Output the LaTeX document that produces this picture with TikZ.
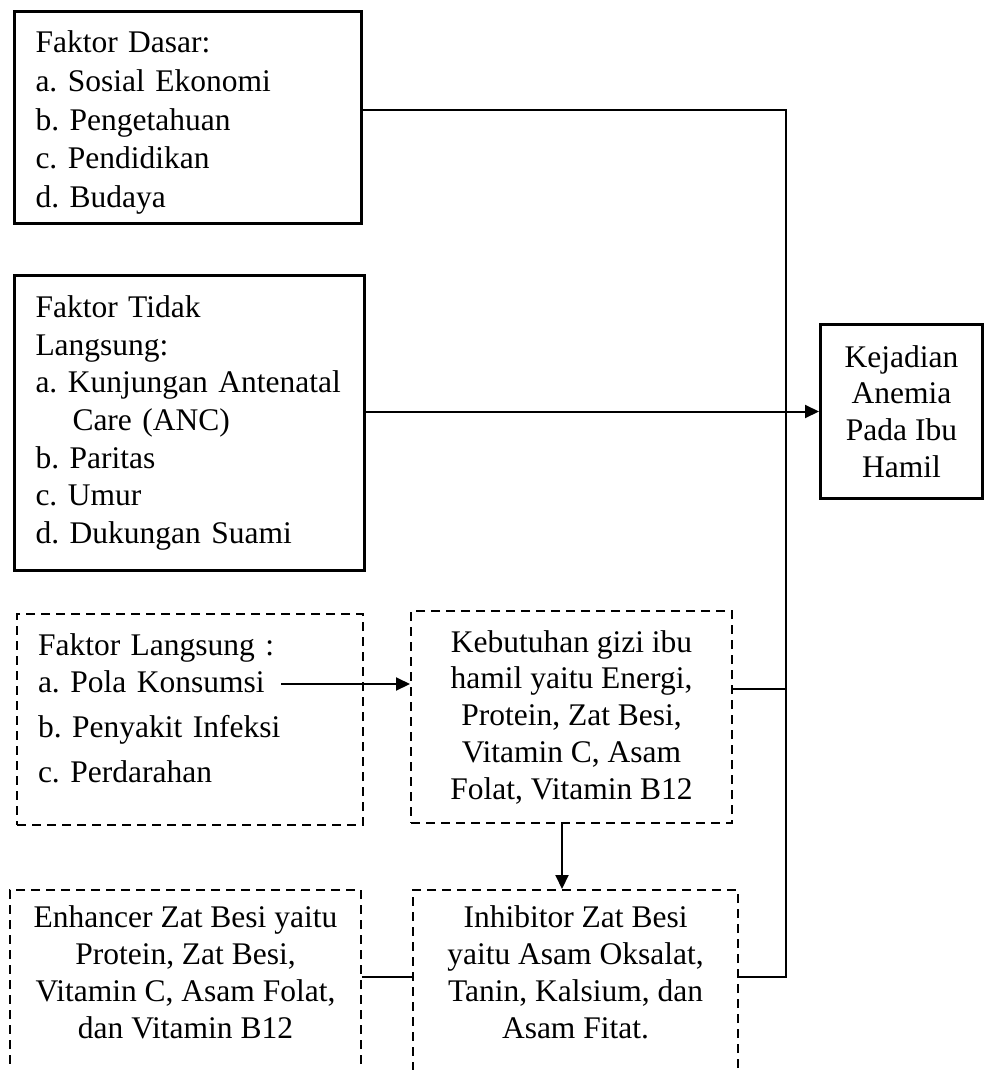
\documentclass[tikz,border=0pt]{standalone}
\usepackage{fontspec}
\setmainfont{Liberation Serif}
\usetikzlibrary{arrows.meta}
\usetikzlibrary{calc}

\begin{document}
\begin{tikzpicture}[x=1pt,y=-1pt,
        font=\fontsize{31.5}{36.75}\selectfont\frenchspacing,
        solidbox/.style={draw, line width=3pt, inner xsep=21pt, inner ysep=0pt},
        dashbox/.style={draw, line width=2pt, dash pattern=on 9pt off 6pt, inner xsep=21pt, inner ysep=0pt},
        link/.style={line width=1.6pt},
        arr/.style={line width=2pt, -{Triangle[length=14pt,width=13pt]}}]
        \useasboundingbox (0,0) rectangle (987,1070);

        \node[solidbox, align=left, text width=305pt, minimum width=347pt, minimum height=212pt,
            font=\fontsize{31.5}{38.75}\selectfont\frenchspacing] (dasar) at (188,117.5)
            {\rule{0pt}{32pt}Faktor Dasar:\\a. Sosial Ekonomi\\b. Pengetahuan\\c. Pendidikan\\d. Budaya};
        \node[solidbox, align=left, text width=308pt, minimum width=350pt, minimum height=295pt,
            font=\fontsize{31.5}{37.7}\selectfont\frenchspacing] (tidak) at (189.5,423)
            {Faktor Tidak\\Langsung:\\a. Kunjungan Antenatal\\\hspace*{37pt}Care (ANC)\\b. Paritas\\c. Umur\\d. Dukungan Suami};
        \node[solidbox, align=center, minimum width=162pt, minimum height=174pt] (anemia) at (901.5,411.5)
            {Kejadian\\Anemia\\Pada Ibu\\Hamil};

        \node[dashbox, align=left, text width=304pt, minimum width=346pt, minimum height=211pt] (langsung) at (190,719.5)
            {Faktor Langsung :\\a. Pola Konsumsi\\[8pt]b. Penyakit Infeksi\\[8pt]c. Perdarahan\rule[-23pt]{0pt}{23pt}};
        \node[dashbox, align=center, minimum width=321pt, minimum height=212pt] (gizi) at (571.5,717)
            {Kebutuhan gizi ibu\\hamil yaitu Energi,\\Protein, Zat Besi,\\Vitamin C, Asam\\Folat, Vitamin B12};
        \node[dashbox, align=center, minimum width=351pt, minimum height=183pt] (enhancer) at (185.5,981.5)
            {Enhancer Zat Besi yaitu\\Protein, Zat Besi,\\Vitamin C, Asam Folat,\\dan Vitamin B12\rule[-19pt]{0pt}{19pt}};
        \node[dashbox, align=center, minimum width=325pt, minimum height=183pt] (inhibitor) at (575.5,981.5)
            {Inhibitor Zat Besi\\yaitu Asam Oksalat,\\Tanin, Kalsium, dan\\Asam Fitat.\rule[-19pt]{0pt}{19pt}};

        \coordinate (K) at (786,110);
        \coordinate (L) at (786,689);
        \coordinate (M) at (786,977);
        \coordinate (P) at (281,684);

        \draw[link] (dasar.east |- K) -- (K) -- (M) -- (inhibitor.east |- M);
        \draw[link] (gizi.east |- L) -- (L);
        \draw[link] (enhancer.east |- M) -- (inhibitor.west |- M);
        \draw[arr] (anemia.west -| tidak.east) -- (anemia.west);
        \draw[arr] (P) -- (P -| gizi.west);
        \draw[arr] ([xshift=-9.5pt]gizi.south) -- ([xshift=-9.5pt]gizi.south |- inhibitor.north);
    \end{tikzpicture}
\end{document}
